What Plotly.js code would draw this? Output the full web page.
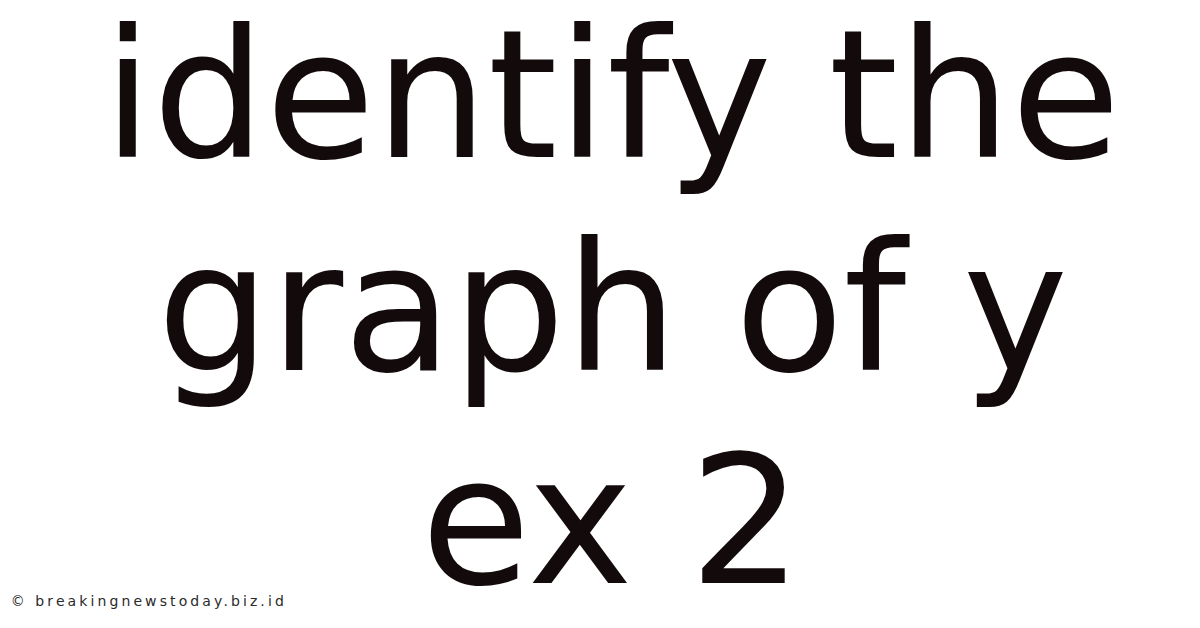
<!DOCTYPE html>
<html>
<head>
<meta charset="utf-8">
<script src="https://cdn.plot.ly/plotly-3.0.1.min.js"></script>
<style>
  html, body { margin: 0; padding: 0; background: #ffffff; }
  #myPlot { width: 1200px; height: 628px; }
</style>
</head>
<body>
<div id="myPlot"></div>
<script>
// title text, one entry per line
var title_lines = ['identify the', 'graph of y', 'ex 2'];
var watermark = '\u00a9 breakingnewstoday.biz.id';

function drawCard(lines, mark){
  var annotations = [];
  var centers = [95, 308, 521]; // pixel centre of each line

  for(var i = 0; i < lines.length; i++){
    annotations.push({
      text: lines[i],
      xref: 'paper', yref: 'paper',
      x: 0.51, y: 1 - centers[i] / 628,
      xanchor: 'center', yanchor: 'middle',
      showarrow: false,
      font: { family: 'DejaVu Sans', size: 178, color: '#120a0b' }
    });
  }

  annotations.push({
    text: mark,
    xref: 'paper', yref: 'paper',
    x: 149 / 1200, y: 1 - 601 / 628,
    xanchor: 'center', yanchor: 'middle',
    showarrow: false,
    font: { family: 'DejaVu Sans', size: 14, color: '#2a2a2a' }
  });

  var layout = {
    width: 1200,
    height: 628,
    margin: { l: 0, r: 0, t: 0, b: 0 },
    paper_bgcolor: '#ffffff',
    plot_bgcolor: '#ffffff',
    xaxis: { visible: false, range: [0, 1] },
    yaxis: { visible: false, range: [0, 1] },
    showlegend: false,
    annotations: annotations
  };

  Plotly.newPlot('myPlot', [], layout, { staticPlot: true, displayModeBar: false }).then(function(){
    // the watermark is set wide in the original
    var texts = document.querySelectorAll('#myPlot .annotation-text');
    var last = texts[texts.length - 1];
    last.style.letterSpacing = '3.1px';
  });
}

drawCard(title_lines, watermark);
</script>
</body>
</html>
